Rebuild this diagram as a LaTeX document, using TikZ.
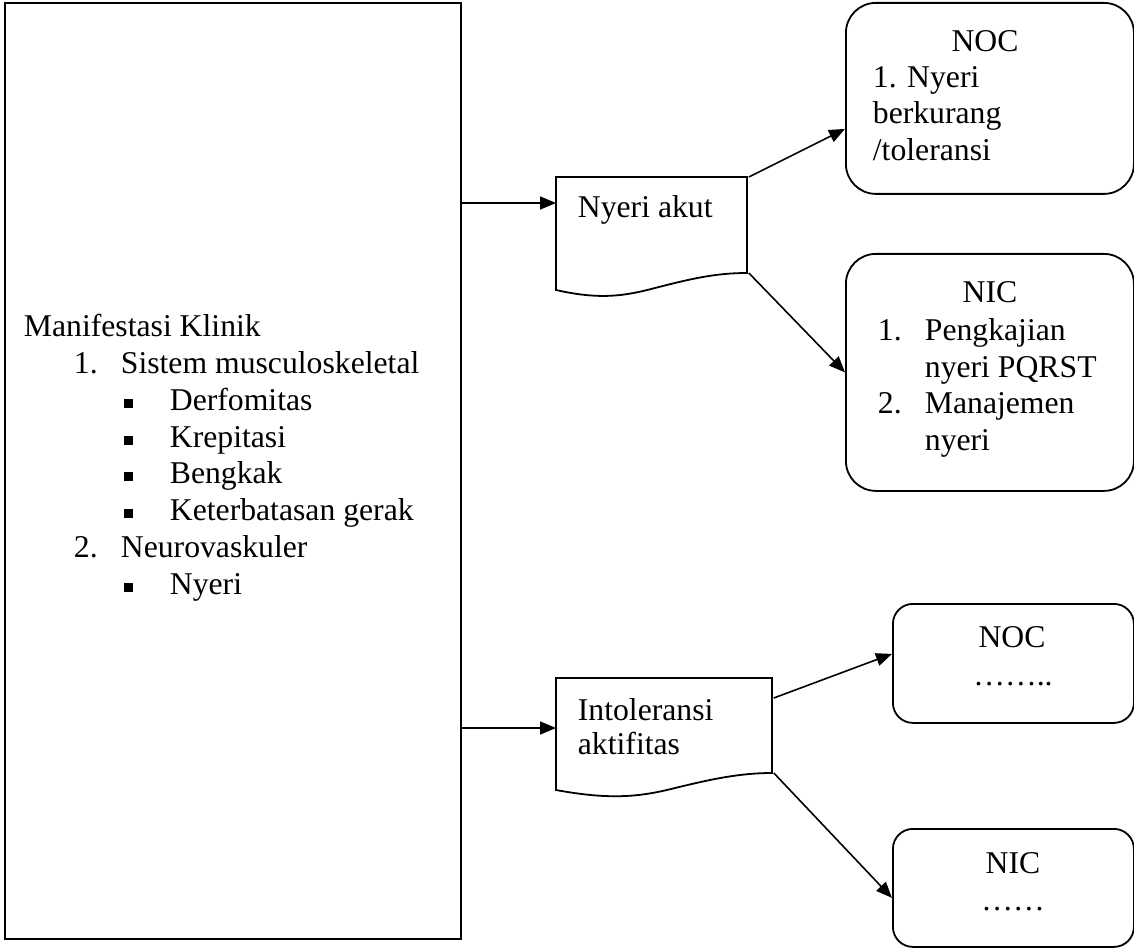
\documentclass[tikz,border=0pt]{standalone}
\usepackage{fontspec}
\setmainfont{Liberation Serif}
\usetikzlibrary{arrows.meta,calc}
\newcommand{\sqbullet}{\raisebox{2pt}{\rule{9pt}{9.5pt}}}
\begin{document}
\begin{tikzpicture}[x=1pt,y=-1pt,line width=1.8pt,
  txt/.style={inner sep=0pt,anchor=base west,font=\fontsize{31.7}{36}\selectfont},
  ctxt/.style={inner sep=0pt,anchor=base,font=\fontsize{31.7}{36}\selectfont},
  holder/.style={rectangle,draw=none,inner sep=0pt,anchor=north west},
  rbox/.style={rectangle,draw,inner sep=0pt,anchor=north west},
  arr/.style={-{Triangle[length=16pt,width=13pt]},line width=1.6pt}]
\useasboundingbox (0,0) rectangle (1134,949);

% main box
\node[rbox,line width=2pt,minimum width=456pt,minimum height=936pt] (klinik) at (4,2) {};

% document-shaped boxes
\node[holder,minimum width=191pt,minimum height=120pt] (akut) at (556,177) {};
\draw (556,177) -- (747,177) -- (747,273)
  .. controls (715,273) and (690,279) .. (655,288)
  .. controls (625,296) and (600,300) .. (556,290) -- cycle;
\node[holder,minimum width=216pt,minimum height=119pt] (intol) at (556,678) {};
\draw (556,678) -- (772,678) -- (772,773)
  .. controls (740,773) and (712,779) .. (675,788)
  .. controls (640,797) and (610,800) .. (556,790) -- cycle;

% rounded outcome / intervention boxes
\node[rbox,rounded corners=30pt,minimum width=288pt,minimum height=191pt] (noc1) at (845,2) {};
\node[rbox,rounded corners=30pt,minimum width=288pt,minimum height=237pt] (nic1) at (845,253) {};
\node[rbox,rounded corners=20pt,minimum width=241pt,minimum height=119pt] (noc2) at (892,603) {};
\node[rbox,rounded corners=20pt,minimum width=241pt,minimum height=118pt] (nic2) at (892,828) {};

% left box text
\node[txt] (t0) at (23,336) {Manifestasi Klinik};
\node[txt] (n1) at (73,373) {1.};
\node[txt] (t1) at (120,373) {Sistem musculoskeletal};
\node[txt] (b1) at (123,410) {\sqbullet};
\node[txt] (t2) at (169,410) {Derfomitas};
\node[txt] (b2) at (123,447) {\sqbullet};
\node[txt] (t3) at (169,447) {Krepitasi};
\node[txt] (b3) at (123,483) {\sqbullet};
\node[txt] (t4) at (169,483) {Bengkak};
\node[txt] (b4) at (123,520) {\sqbullet};
\node[txt] (t5) at (169,520) {Keterbatasan gerak};
\node[txt] (n2) at (73,557) {2.};
\node[txt] (t6) at (120,557) {Neurovaskuler};
\node[txt] (b5) at (123,594) {\sqbullet};
\node[txt] (t7) at (169,594) {Nyeri};

% diagnosis text
\node[txt] (akutT) at (577,218) {Nyeri akut};
\node[txt] (intolT1) at (577,720) {Intoleransi};
\node[txt] (intolT2) at (577,754) {aktifitas};

% NOC 1
\node[ctxt] (noc1h) at (985,52) {NOC};
\node[txt] (noc1a) at (872,88) {1. Nyeri};
\node[txt] (noc1b) at (872,124) {berkurang};
\node[txt] (noc1c) at (872,161) {/toleransi};

% NIC 1
\node[ctxt] (nic1h) at (990,303) {NIC};
\node[txt] (nic1n1) at (877,340) {1.};
\node[txt] (nic1a) at (924,340) {Pengkajian};
\node[txt] (nic1b) at (924,377) {nyeri PQRST};
\node[txt] (nic1n2) at (877,413) {2.};
\node[txt] (nic1c) at (924,413) {Manajemen};
\node[txt] (nic1d) at (924,450) {nyeri};

% NOC 2 / NIC 2
\node[ctxt] (noc2h) at (1012,647) {NOC};
\node[ctxt] (noc2a) at (1013,685) {……..};
\node[ctxt] (nic2h) at (1013,873) {NIC};
\node[ctxt] (nic2a) at (1013,910) {……};

% connectors
\path (akut.north west) ++(0,26) coordinate (akutIn);
\path (intol.north west) ++(0,50) coordinate (intolIn);
\draw[arr] (klinik.east |- akutIn) -- (akutIn);
\draw[arr] (klinik.east |- intolIn) -- (intolIn);
\draw[arr] (akut.north east) -- ($(noc1.west)+(0,30.5)$);
\draw[arr] ($(akut.north east)+(0,96)$) -- (nic1.west);
\draw[arr] ($(intol.north east)+(0,20)$) -- ($(noc2.west)+(0,-9.5)$);
\draw[arr] ($(intol.north east)+(0,95)$) -- ($(nic2.west)+(0,10)$);
\end{tikzpicture}
\end{document}
